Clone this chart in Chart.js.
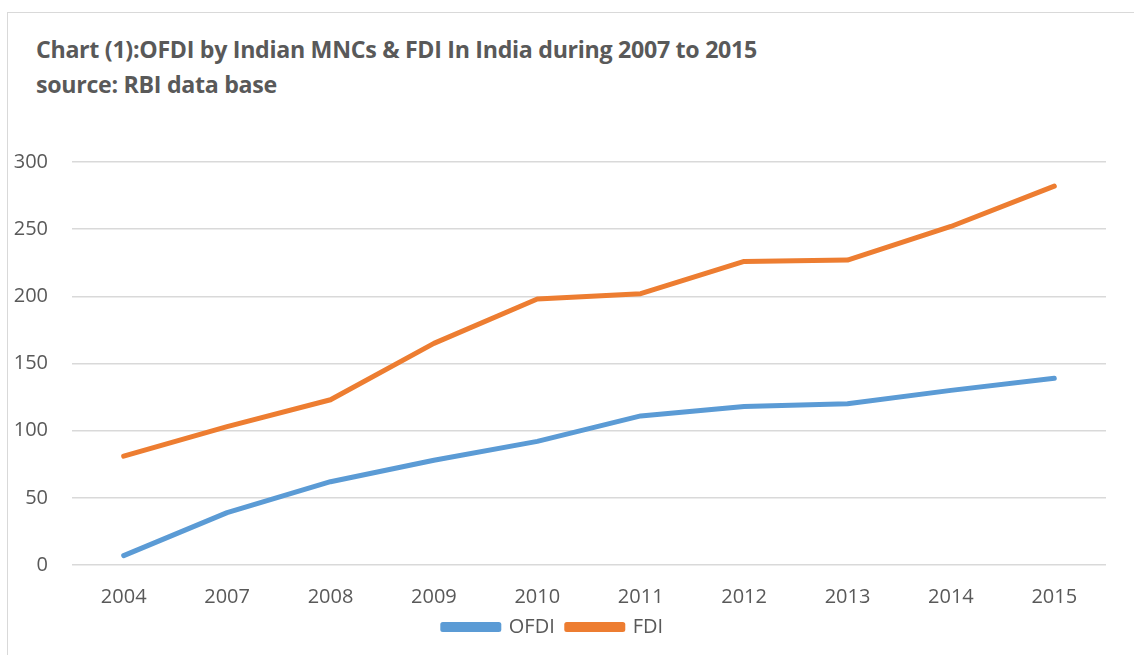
<!DOCTYPE html>
<html>
    <head>
        <meta charset="UTF-8">
        <title>OFDI vs FDI</title>
        <script src="https://cdn.jsdelivr.net/npm/chart.js"></script>
        <style>
            body { margin: 0; background: #fff; }
            #wrap { position: relative; width: 1134px; height: 655px; overflow: hidden; }
            #frame { position: absolute; left: 7px; top: 12px; width: 1200px; height: 700px; border: 1px solid #d9d9d9; }
            .ttl { position: absolute; left: 36px; font: bold 23.2px "Open Sans", sans-serif; color: #595959; white-space: nowrap; letter-spacing: -0.3px; }
            canvas { position: absolute; left: 0; top: 0; }
        </style>
    </head>
    <body>
        <div id="wrap">
            <div id="frame"></div>
            <div class="ttl" style="top:33px">Chart (1):OFDI by Indian MNCs &amp; FDI In India during 2007 to 2015</div>
            <div class="ttl" style="top:68px">source: RBI data base</div>
            <canvas id="chart" width="1134" height="655"></canvas>
        </div>

        <script>
            // values
            const years = ['2004', '2007', '2008', '2009', '2010', '2011', '2012', '2013', '2014', '2015'];
            const ofdi = [7, 39, 62, 78, 92, 111, 118, 120, 130, 139];
            const fdi = [81, 103, 123, 165, 198, 202, 226, 227, 252, 282];

            const textColor = '#595959';
            const gridColor = '#d9d9d9';
            const tickFont = { family: '"Open Sans", sans-serif', size: 20 };

            new Chart(document.getElementById('chart'), {
                type: 'line',
                data: {
                    labels: years,
                    datasets: [
                        { label: 'OFDI', data: ofdi, borderColor: '#5b9bd5', backgroundColor: '#5b9bd5', borderWidth: 5, borderCapStyle: 'round', borderJoinStyle: 'round', pointRadius: 0, tension: 0 },
                        { label: 'FDI', data: fdi, borderColor: '#ed7d31', backgroundColor: '#ed7d31', borderWidth: 5, borderCapStyle: 'round', borderJoinStyle: 'round', pointRadius: 0, tension: 0 }
                    ]
                },
                options: {
                    responsive: false,
                    animation: false,
                    layout: { padding: { left: 0, right: 28, top: 162, bottom: 8 } },
                    plugins: {
                        legend: {
                            position: 'bottom',
                            labels: { boxWidth: 56, boxHeight: 5, color: textColor, font: tickFont, padding: 12 }
                        },
                        tooltip: { enabled: false }
                    },
                    scales: {
                        x: {
                            offset: true,
                            afterFit: (s) => { s.height = 40; },
                            grid: { display: false, drawTicks: false },
                            border: { display: false },
                            ticks: { color: textColor, font: tickFont, padding: 20, maxRotation: 0 }
                        },
                        y: {
                            min: 0,
                            max: 300,
                            afterFit: (s) => { s.width = 72; },
                            grid: { color: gridColor, lineWidth: 1.5, drawTicks: false },
                            border: { display: false },
                            ticks: { stepSize: 50, color: textColor, font: tickFont, padding: 24 }
                        }
                    }
                }
            });
        </script>
    </body>
</html>
